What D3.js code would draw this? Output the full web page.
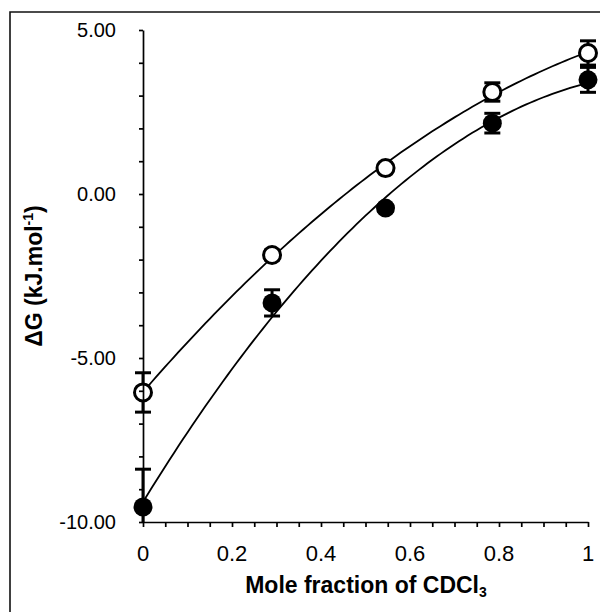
<!DOCTYPE html>
<html><head><meta charset="utf-8">
<script src="https://cdn.jsdelivr.net/npm/d3@7"></script>
<style>html,body{margin:0;padding:0;background:#fff;}svg{display:block;}</style>
</head><body>
<script>
// ---- data ----
const xValues = [0, 0.29, 0.545, 0.785, 1];
const openValues = [-6.05, -1.86, 0.79, 3.11, 4.30];
const openErrors = [0.6, 0.15, 0.1, 0.28, 0.37];
const filledValues = [-9.54, -3.32, -0.43, 2.16, 3.48];
const filledErrors = [1.15, 0.4, 0.1, 0.3, 0.38];
const yTickValues = [-10, -5, 0, 5];
const yTickLabels = ["-10.00", "-5.00", "0.00", "5.00"];
const xTickValues = [0, 0.2, 0.4, 0.6, 0.8, 1];
const xTickLabels = ["0", "0.2", "0.4", "0.6", "0.8", "1"];

const W = 600, H = 612;
const svg = d3.select("body").append("svg").attr("width", W).attr("height", H);
const x = d3.scaleLinear().domain([0, 1]).range([143, 588]);
const y = d3.scaleLinear().domain([-10, 5]).range([522, 30]);
const font = "'Liberation Sans', Arial, Helvetica, sans-serif";

// frame (top & left)
svg.append("path").attr("d", "M10,612V12H600").attr("fill", "none").attr("stroke", "#111").attr("stroke-width", 1.6);

// quadratic least squares fit
function quadFit(xs, ys) {
  let S = [[0,0,0],[0,0,0],[0,0,0]], T = [0,0,0];
  xs.forEach((xv, i) => {
    const p = [1, xv, xv*xv];
    for (let r = 0; r < 3; r++) { T[r] += p[r]*ys[i]; for (let c = 0; c < 3; c++) S[r][c] += p[r]*p[c]; }
  });
  const A = S.map((row, i) => row.concat([T[i]]));
  for (let i = 0; i < 3; i++) {
    for (let k = i+1; k < 3; k++) {
      const f = A[k][i]/A[i][i];
      for (let j = i; j < 4; j++) A[k][j] -= f*A[i][j];
    }
  }
  const c = [0,0,0];
  for (let i = 2; i >= 0; i--) {
    let s = A[i][3];
    for (let j = i+1; j < 3; j++) s -= A[i][j]*c[j];
    c[i] = s/A[i][i];
  }
  return xv => c[0] + c[1]*xv + c[2]*xv*xv;
}

svg.append("defs").append("clipPath").attr("id", "clip")
  .append("rect").attr("x", 100).attr("y", 0).attr("width", 500).attr("height", 522);

const plot = svg.append("g").attr("clip-path", "url(#clip)");
const line = d3.line().x(d => x(d[0])).y(d => y(d[1]));
const grid = d3.range(0, 1.0001, 0.01);
[openValues, filledValues].forEach(vals => {
  const f = quadFit(xValues, vals);
  plot.append("path").datum(grid.map(g => [g, f(g)]))
    .attr("d", line).attr("fill", "none").attr("stroke", "#000").attr("stroke-width", 1.8);
});

// error bars
function errBars(vals, errs) {
  const g = plot.append("g").attr("stroke", "#000").attr("stroke-width", 3);
  xValues.forEach((xv, i) => {
    const cx = x(xv), y1 = y(vals[i] + errs[i]), y2 = y(vals[i] - errs[i]);
    g.append("line").attr("x1", cx).attr("x2", cx).attr("y1", y1).attr("y2", y2);
    g.append("line").attr("x1", cx-8).attr("x2", cx+8).attr("y1", y1).attr("y2", y1);
    g.append("line").attr("x1", cx-8).attr("x2", cx+8).attr("y1", y2).attr("y2", y2);
  });
}
errBars(openValues, openErrors);
errBars(filledValues, filledErrors);

plot.append("g").selectAll("circle").data(xValues).join("circle")
  .attr("cx", d => x(d)).attr("cy", (d, i) => y(openValues[i])).attr("r", 8.5)
  .attr("fill", "#fff").attr("stroke", "#000").attr("stroke-width", 3);
plot.append("g").selectAll("circle").data(xValues).join("circle")
  .attr("cx", d => x(d)).attr("cy", (d, i) => y(filledValues[i])).attr("r", 9.5)
  .attr("fill", "#000");

// axes
const yAxis = d3.axisLeft(y).tickValues(d3.range(-10, 5.001, 1)).tickSize(4).tickSizeOuter(0).tickFormat("");
const gy = svg.append("g").attr("transform", "translate(143,0)").call(yAxis);
const xAxis = d3.axisBottom(x).tickValues(d3.range(0, 1.0001, 0.05)).tickSize(5).tickSizeOuter(0).tickFormat("");
const gx = svg.append("g").attr("transform", "translate(0,522)").call(xAxis);
[gx, gy].forEach(g => { g.selectAll("path,line").attr("stroke", "#000").attr("stroke-width", 1.7); });

// tick labels
svg.append("g").selectAll("text").data(yTickValues).join("text")
  .attr("x", 116).attr("y", d => y(d)).attr("dy", "0.36em").attr("text-anchor", "end")
  .attr("font-family", font).attr("font-size", 20).attr("fill", "#000")
  .text((d, i) => yTickLabels[i]);
svg.append("g").selectAll("text").data(xTickValues).join("text")
  .attr("x", d => x(d)).attr("y", 561).attr("text-anchor", "middle")
  .attr("font-family", font).attr("font-size", 22).attr("fill", "#000")
  .text((d, i) => xTickLabels[i]);

// axis titles
const xt = svg.append("text").attr("x", 366).attr("y", 593).attr("text-anchor", "middle")
  .attr("font-family", font).attr("font-size", 23).attr("font-weight", "bold").attr("fill", "#000");
xt.append("tspan").text("Mole fraction of CDCl");
xt.append("tspan").attr("font-size", 14).attr("dy", 4).text("3");

const yt = svg.append("text").attr("transform", "translate(42,276) rotate(-90)").attr("text-anchor", "middle")
  .attr("font-family", font).attr("font-size", 23).attr("font-weight", "bold").attr("fill", "#000");
yt.append("tspan").text("ΔG (kJ.mol");
yt.append("tspan").attr("font-size", 14).attr("dy", -9).text("-1");
yt.append("tspan").attr("dy", 9).text(")");
</script>
</body></html>
